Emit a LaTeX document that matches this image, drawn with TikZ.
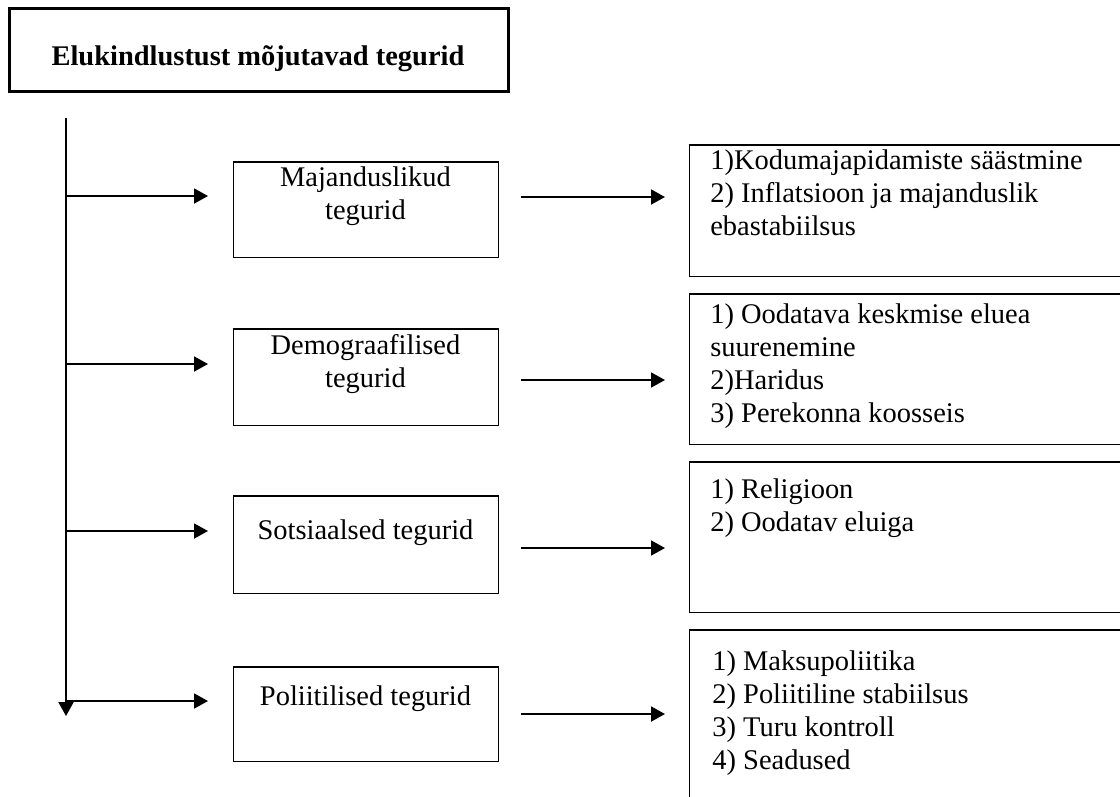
\documentclass[tikz,border=0pt]{standalone}
\usepackage{fontspec}
\setmainfont{Liberation Serif}
\usetikzlibrary{arrows.meta,positioning,calc}
\tikzset{box/.style={draw,line width=0.85pt,rectangle,inner sep=0pt,anchor=north west},
         head/.style={draw,line width=1.6pt,rectangle,inner sep=0pt,anchor=north west},
         txt/.style={inner sep=0pt,font=\fontsize{16.2}{18.8}\selectfont},
         edge/.style={-{Triangle[length=0.28cm,width=0.3cm]},line width=1.1pt}
}

\begin{document}
\begin{tikzpicture}[x=0.02cm,y=-0.02cm]
    \useasboundingbox (0,0) rectangle (1120,796);
    \clip (0,0) rectangle (1120,796);

    % heading
    \node[head,minimum width=9.98cm,minimum height=1.66cm] (H) at (8,7) {};
    \node[inner sep=0pt,anchor=base,font=\fontsize{16.2}{18.8}\selectfont\bfseries] (Ht) at (258,65) {Elukindlustust mõjutavad tegurid};

    % middle boxes
    \node[box,minimum width=5.3cm,minimum height=1.92cm] (M1) at (233,161) {};
    \node[box,minimum width=5.3cm,minimum height=1.94cm] (M2) at (233,328) {};
    \node[box,minimum width=5.3cm,minimum height=1.96cm] (M3) at (233,495) {};
    \node[box,minimum width=5.3cm,minimum height=1.90cm] (M4) at (233,666) {};
    \node[txt,align=center,anchor=north] (M1t) at (365.5,163) {\strut Majanduslikud\\tegurid};
    \node[txt,align=center,anchor=north] (M2t) at (365.5,331) {\strut Demograafilised\\tegurid};
    \node[txt,align=center,anchor=north] (M3t) at (365.5,516) {\strut Sotsiaalsed tegurid};
    \node[txt,align=center,anchor=north] (M4t) at (365.5,682) {\strut Poliitilised tegurid};

    % right boxes
    \node[box,minimum width=10cm,minimum height=2.64cm] (R1) at (689,144) {};
    \node[box,minimum width=10cm,minimum height=3.02cm] (R2) at (689,293) {};
    \node[box,minimum width=10cm,minimum height=3.02cm] (R3) at (689,461) {};
    \node[box,minimum width=10cm,minimum height=4cm] (R4) at (689,629) {};
    \node[txt,align=left,anchor=north west] (R1t) at (710,146) {\strut 1)Kodumajapidamiste säästmine\\2) Inflatsioon ja majanduslik\\ebastabiilsus};
    \node[txt,align=left,anchor=north west] (R2t) at (710,300) {\strut 1) Oodatava keskmise eluea\\suurenemine\\2)Haridus\\3) Perekonna koosseis};
    \node[txt,align=left,anchor=north west] (R3t) at (710,475) {\strut 1) Religioon\\2) Oodatav eluiga};
    \node[txt,align=left,anchor=north west] (R4t) at (712,647) {\strut 1) Maksupoliitika\\2) Poliitiline stabiilsus\\3) Turu kontroll\\4) Seadused};

    % spine
    \coordinate (top) at (66,118);
    \coordinate (bot) at (66,716);
    \draw[edge] (top) -- (bot);

    \coordinate (L1) at (66,196);
    \coordinate (L2) at (66,364);
    \coordinate (L3) at (66,531);
    \coordinate (L4) at (66,701);
    \draw[edge,shorten >=0.5cm] (L1) -- (L1 -| M1.west);
    \draw[edge,shorten >=0.5cm] (L2) -- (L2 -| M2.west);
    \draw[edge,shorten >=0.5cm] (L3) -- (L3 -| M3.west);
    \draw[edge,shorten >=0.5cm] (L4) -- (L4 -| M4.west);

    \coordinate (A1) at (521,197);
    \coordinate (A2) at (521,380);
    \coordinate (A3) at (521,548);
    \coordinate (A4) at (521,714);
    \draw[edge,shorten >=0.48cm] (A1) -- (A1 -| R1.west);
    \draw[edge,shorten >=0.48cm] (A2) -- (A2 -| R2.west);
    \draw[edge,shorten >=0.48cm] (A3) -- (A3 -| R3.west);
    \draw[edge,shorten >=0.48cm] (A4) -- (A4 -| R4.west);
\end{tikzpicture}
\end{document}
